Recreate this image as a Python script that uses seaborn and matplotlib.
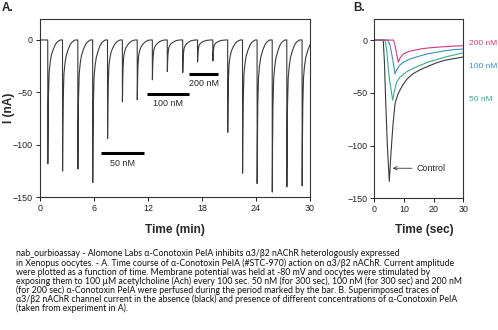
import numpy as np
import pandas as pd
import matplotlib
matplotlib.use("Agg")
import matplotlib.pyplot as plt
import seaborn as sns
from matplotlib import font_manager as fm

# ---------------- data ----------------
# Panel A: ACh stimulations (min) and peak currents (nA)
stim_times = [0.86, 2.5, 4.2, 5.85, 7.5, 9.15, 10.8, 12.48, 14.14, 15.85,
              17.5, 19.2, 20.85, 22.5, 24.12, 25.8, 27.42, 29.12]
peak_amps = [-118, -125, -123, -136, -94, -59, -57, -38, -30, -31,
             -21, -20, -88, -127, -137, -145, -140, -139]
# recovery profile after each peak (min after peak, fraction of peak)
recov_dt = [0.0, 0.03, 0.07, 0.15, 0.26, 0.4, 0.63, 0.85, 1.0, 1.2, 1.4]
recov_frac = [1.0, 0.7, 0.45, 0.26, 0.18, 0.12, 0.07, 0.035, 0.02, 0.008, 0.0]

bar_labels = ["50 nM", "100 nM", "200 nM"]
bar_start = [6.8, 11.85, 16.6]
bar_end = [11.55, 16.6, 19.8]
bar_level = [-108, -51.5, -32]
bar_text_y = [-117.5, -60.5, -41.5]

a_xticks = [0, 6, 12, 18, 24, 30]
yticks = [0, -50, -100, -150]

# Panel B: superimposed traces (sec, nA)
ctrl_t = [0, 3.0, 3.4, 3.8, 4.4, 5.05, 5.6, 6.3, 7.0, 8.0, 9.5, 11, 13, 15.5, 18, 21, 24, 27, 30]
ctrl_i = [0, 0, -20, -55, -100, -134, -108, -80, -60, -51, -43, -37, -32, -28, -25, -21.5, -19, -17.5, -16]
c50_t = [0, 3.6, 4.2, 5.0, 6.2, 6.8, 7.5, 8.7, 10.9, 13, 15.4, 18, 21, 24, 27, 30]
c50_i = [0, 0, -10, -35, -57, -48, -40, -35, -30, -27, -24, -21, -18.5, -16, -14, -12]
c100_t = [0, 4.6, 5.3, 6.2, 7.0, 7.6, 8.5, 9.8, 12, 15.4, 18, 21, 24, 27, 30]
c100_i = [0, 0, -5, -18, -32, -28, -24, -21, -18, -15, -13, -11.5, -10, -9, -8.5]
c200_t = [0, 6.5, 7.0, 7.6, 8.1, 8.7, 9.8, 12, 15.4, 18, 21, 24, 27, 30]
c200_i = [0, 0, -5, -14, -21, -17, -13, -10.5, -8.5, -7.5, -6.8, -6.2, -5.7, -5.3]
b_labels = ["200 nM", "100 nM", "50 nM"]
b_label_y = [-3, -25, -56]
b_xticks = [0, 10, 20, 30]

caption_lines = [
    "nab_ourbioassay - Alomone Labs \u03b1-Conotoxin PeIA inhibits \u03b13/\u03b22 nAChR heterologously expressed",
    "in Xenopus oocytes. - A. Time course of \u03b1-Conotoxin PeIA (#STC-970) action on \u03b13/\u03b22 nAChR. Current amplitude",
    "were plotted as a function of time. Membrane potential was held at -80 mV and oocytes were stimulated by",
    "exposing them to 100 \u00b5M acetylcholine (Ach) every 100 sec. 50 nM (for 300 sec), 100 nM (for 300 sec) and 200 nM",
    "(for 200 sec) \u03b1-Conotoxin PeIA were perfused during the period marked by the bar. B. Superimposed traces of",
    "\u03b13/\u03b22 nAChR channel current in the absence (black) and presence of different concentrations of \u03b1-Conotoxin PeIA",
    "(taken from experiment in A).",
]

# ---------------- style ----------------
sns.set_style("white")
names = {f.name for f in fm.fontManager.ttflist}
tick_font = "Liberation Sans Narrow" if "Liberation Sans Narrow" in names else "Liberation Sans"
plt.rcParams["font.family"] = [tick_font, "DejaVu Sans"]
cap_font = ["Lato", "Noto Sans", "DejaVu Sans"]
bold_font = ["Liberation Sans", "DejaVu Sans"]
fs = 6.4

fig = plt.figure(figsize=(4.98, 3.3), dpi=100)
axA = fig.add_axes([40 / 498, 1 - 197.3 / 330, 270 / 498, (197.3 - 19) / 330])
axB = fig.add_axes([374.3 / 498, 1 - 198.3 / 330, 89 / 498, (198.3 - 19) / 330])

# build panel A trace from the stimulation data
ts, vs = [0.0], [0.0]
for t0, amp in zip(stim_times, peak_amps):
    ts += [t0]
    vs += [0.0]
    for dt, fr in zip(recov_dt, recov_frac):
        ts.append(t0 + 0.01 + dt)
        vs.append(amp * fr)
dfA = pd.DataFrame({"time": ts, "current": vs})
dfA = dfA[dfA.time <= 30.5]
sns.lineplot(data=dfA, x="time", y="current", sort=False, estimator=None,
             color="#3a3a3a", lw=0.8, ax=axA)

for lab, s, e, lv, ty in zip(bar_labels, bar_start, bar_end, bar_level, bar_text_y):
    axA.plot([s, e], [lv, lv], color="black", lw=2.2, solid_capstyle="butt")
    axA.text((s + e) / 2, ty, lab, ha="center", va="center", fontsize=fs)

axA.set_xlim(0, 30)
axA.set_ylim(-150, 20)
axA.set_xticks(a_xticks)
axA.set_yticks(yticks)
axA.set_xlabel("Time (min)", fontsize=8.6, fontweight="bold", family=bold_font)
axA.set_ylabel("I (nA)", fontsize=8.6, fontweight="bold", family=bold_font)
axA.xaxis.set_label_coords(0.5, -0.152)
axA.yaxis.set_label_coords((15 - 40) / 270, 0.5)

# panel B traces
tr_colors = ["#3a3a3a", "#3aa895", "#3a8fbf", "#d6387a"]
for (tt, ii), c in zip([(ctrl_t, ctrl_i), (c50_t, c50_i), (c100_t, c100_i), (c200_t, c200_i)], tr_colors):
    sns.lineplot(x=tt, y=ii, sort=False, estimator=None, color=c, lw=0.8, ax=axB)

for lab, y, c in zip(b_labels, b_label_y, ["#d6387a", "#3a8fbf", "#3aa895"]):
    axB.text(32.0, y, lab, color=c, fontsize=6.0, ha="left", va="center", clip_on=False)
axB.annotate("Control", xy=(6.2, -121.5), xytext=(14.3, -121.5), fontsize=fs,
             va="center", ha="left",
             arrowprops=dict(arrowstyle="->", color="#333333", lw=0.6, shrinkA=1, shrinkB=0))
axB.set_xlim(0, 30)
axB.set_ylim(-150, 20)
axB.set_xticks(b_xticks)
axB.set_yticks(yticks)
axB.set_xlabel("Time (sec)", fontsize=8.6, fontweight="bold", family=bold_font)
axB.xaxis.set_label_coords((424 - 374.3) / 89, -0.146)
axB.set_ylabel("")

for ax in (axA, axB):
    for sp in ax.spines.values():
        sp.set_color("#333333")
        sp.set_linewidth(0.8)
    ax.tick_params(direction="out", length=3, width=0.7, labelsize=fs, pad=2,
                   bottom=True, left=True, colors="#222222")

fig.text(2 / 498, 1 - 8 / 330, "A.", fontsize=8.5, fontweight="bold", va="center",
         family=bold_font)
fig.text(353 / 498, 1 - 8 / 330, "B.", fontsize=8.5, fontweight="bold", va="center",
         family=bold_font)

# caption: size chosen so that the second line spans the same width as in the reference
renderer = fig.canvas.get_renderer()
probe = fig.text(0, 0, caption_lines[1], fontsize=6.0, family=cap_font)
w = probe.get_window_extent(renderer).width
probe.remove()
cap_fs = 6.0 * 439.0 / w

y0 = 254.0
for k, line in enumerate(caption_lines):
    fig.text(16 / 498, 1 - (y0 + k * 9.05) / 330, line, fontsize=cap_fs, va="center",
             ha="left", family=cap_font, color="#111111")

fig.savefig("out.png", dpi=100)
